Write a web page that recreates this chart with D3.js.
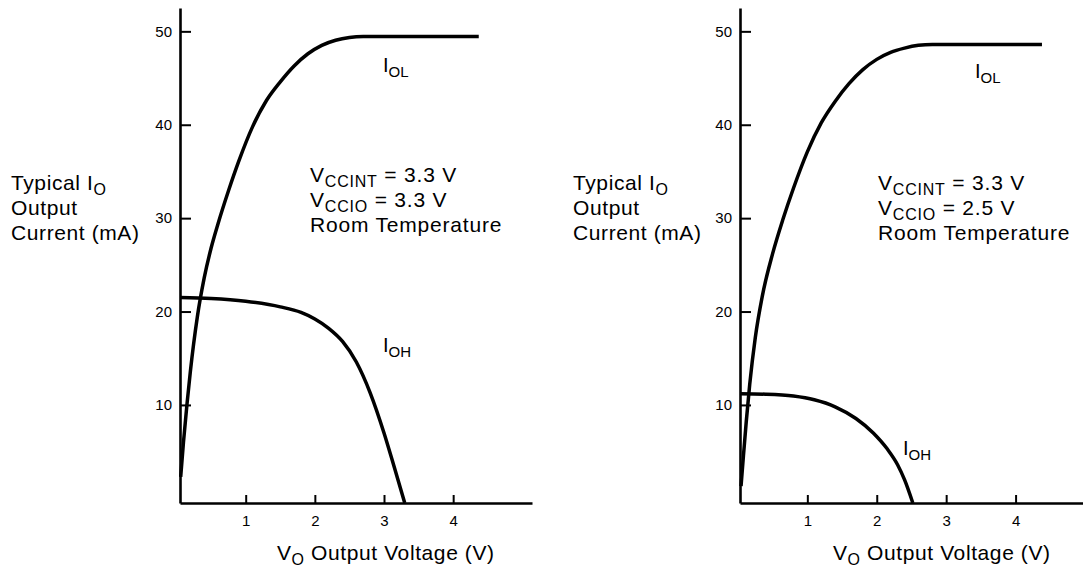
<!DOCTYPE html>
<html><head><meta charset="utf-8">
<script src="https://cdn.jsdelivr.net/npm/d3@7"></script>
<style>
body{margin:0;background:#fff;}
text{font-family:"Liberation Sans",Arial,Helvetica,sans-serif;fill:#000;}
</style></head>
<body><svg id="c" width="1083" height="572"></svg>
<script>
// ---- data (V in volts, I in mA) ----
const xTicks = [1, 2, 3, 4];
const yTicks = [10, 20, 30, 40, 50];

const leftIOL = [[0.06,2.3],[0.1,6.0],[0.15,10.0],[0.2,13.6],[0.3,19.4],[0.4,23.6],[0.5,26.8],[0.6,29.4],[0.75,32.9],[0.9,36.1],[1.1,39.8],[1.3,42.6],[1.5,44.6],[1.7,46.3],[1.9,47.6],[2.1,48.5],[2.3,49.05],[2.5,49.35],[2.7,49.45],[4.37,49.45]];
const leftIOH = [[0.05,21.5],[0.5,21.4],[1.0,21.1],[1.5,20.5],[1.8,19.9],[2.0,19.2],[2.2,18.2],[2.4,16.8],[2.6,14.6],[2.8,11.3],[3.0,7.0],[3.15,3.3],[3.30,-0.5]];

const rightIOL = [[0.045,1.3],[0.08,4.6],[0.12,8.2],[0.17,12.2],[0.25,17.2],[0.35,21.6],[0.5,26.2],[0.65,29.9],[0.8,33.2],[1.0,37.1],[1.2,40.2],[1.4,42.5],[1.6,44.4],[1.8,45.9],[2.0,47.0],[2.2,47.75],[2.4,48.2],[2.6,48.5],[2.8,48.6],[4.38,48.6]];
const rightIOH = [[0.03,11.2],[0.4,11.15],[0.8,10.95],[1.1,10.55],[1.4,9.8],[1.7,8.55],[1.95,7.0],[2.15,5.3],[2.3,3.6],[2.4,2.0],[2.52,-0.5]];

const panels = [
  {x0:180, x1:532, dom:[0.05,5.14], iol:leftIOL, ioh:leftIOH, vccio:"3.3",
   yTitleX:11, annX:310, annY:[182,207,232], iolLab:[383,72], iohLab:[383,352], xTitleX:277},
  {x0:740, x1:1085, dom:[0.03,5.0], iol:rightIOL, ioh:rightIOH, vccio:"2.5",
   yTitleX:573, annX:878, annY:[190,215,240], iolLab:[975,78], iohLab:[903,455], xTitleX:833}
];

const svg = d3.select("#c");
const yScale = d3.scaleLinear().domain([-0.5, 52.5]).range([503, 8]);

function label(g, x, y, parts, size, sub, ls){
  const t = g.append("text").attr("x", x).attr("y", y)
    .style("font-size", size + "px").style("letter-spacing", (ls||0) + "px");
  parts.forEach(p => {
    const s = t.append("tspan").text(p[0]);
    if (p[1]) { s.style("font-size", sub + "px").attr("dy", 5); }
    else if (p[2]) { s.attr("dy", -5); }
  });
  return t;
}

panels.forEach(p => {
  const x = d3.scaleLinear().domain(p.dom).range([p.x0, p.x1]);
  const g = svg.append("g");

  const ya = d3.axisLeft(yScale).tickValues(yTicks).tickFormat(d3.format("d"))
    .tickSizeInner(-11).tickSizeOuter(0).tickPadding(8);
  const yg = g.append("g").attr("transform", `translate(${p.x0},0)`).call(ya);
  const xa = d3.axisBottom(x).tickValues(xTicks).tickFormat(d3.format("d"))
    .tickSizeInner(-8).tickSizeOuter(0).tickPadding(12);
  const xg = g.append("g").attr("transform", `translate(0,503)`).call(xa);
  [yg, xg].forEach(a => {
    a.select(".domain").attr("stroke", "#000").attr("stroke-width", 2.6);
    a.selectAll(".tick line").attr("stroke", "#000").attr("stroke-width", 2);
    a.selectAll(".tick text").style("font-size", "15px").style("font-family", '"Liberation Sans",Arial,sans-serif').attr("fill", "#000");
  });

  const line = d3.line().x(d => x(d[0])).y(d => yScale(d[1])).curve(d3.curveMonotoneX);
  [p.iol, p.ioh].forEach(s => g.append("path").datum(s).attr("d", line)
    .attr("fill", "none").attr("stroke", "#000").attr("stroke-width", 3.5)
    .attr("stroke-linejoin", "round"));

  // curve labels
  label(g, p.iolLab[0], p.iolLab[1], [["I"],["OL",1]], 20, 15, 0);
  label(g, p.iohLab[0], p.iohLab[1], [["I"],["OH",1]], 20, 15, 0);

  // annotation
  label(g, p.annX, p.annY[0], [["V"],["CCINT",1],[" = 3.3 V",0,1]], 21, 16, 0.8);
  label(g, p.annX, p.annY[1], [["V"],["CCIO",1],[" = " + p.vccio + " V",0,1]], 21, 16, 0.8);
  label(g, p.annX, p.annY[2], [["Room Temperature"]], 21, 16, 0.8);

  // y title
  label(g, p.yTitleX, 190, [["Typical I"],["O",1]], 21, 16, 0.6);
  label(g, p.yTitleX, 215, [["Output"]], 21, 16, 0.6);
  label(g, p.yTitleX, 240, [["Current (mA)"]], 21, 16, 0.6);

  // x title
  label(g, p.xTitleX, 560, [["V"],["O",1],[" Output Voltage (V)",0,1]], 21, 16, 0.6);
});
</script></body></html>
